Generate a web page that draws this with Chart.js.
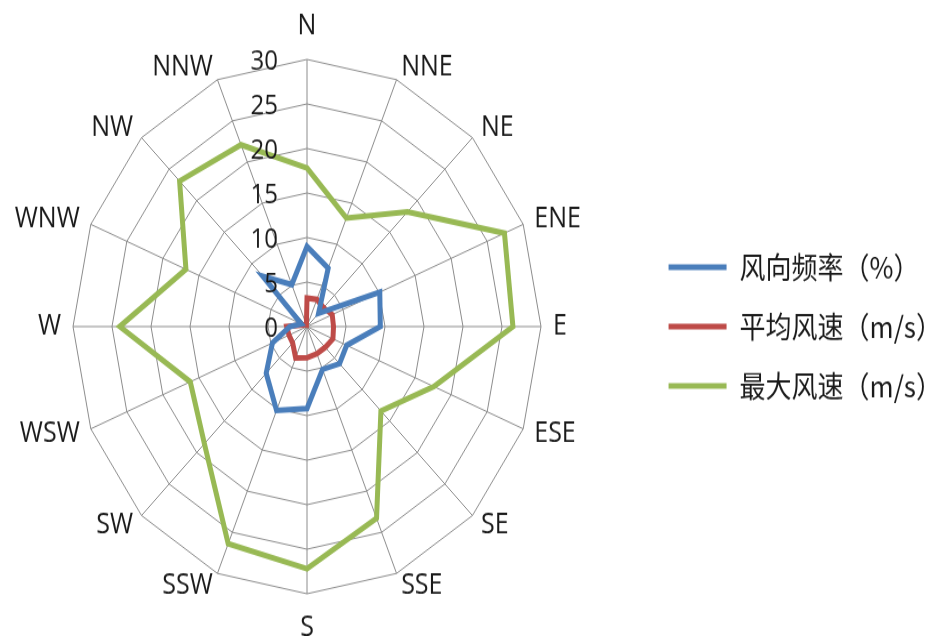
<!DOCTYPE html>
<html>
<head>
<meta charset="utf-8">
<script src="https://cdn.jsdelivr.net/npm/chart.js@4.4.1/dist/chart.umd.min.js"></script>
<style>
  html, body { margin: 0; padding: 0; background: #fff; }
  #wrap { width: 938px; height: 636px; overflow: hidden; position: relative; }
  /* the plot is drawn on a shorter canvas and stretched to the page height */
  #c { display: block; transform-origin: 0 0; transform: scaleY(1.1418); }
</style>
</head>
<body>
<div id="wrap"><canvas id="c" width="938" height="557"></canvas></div>
<script>
// wind directions, clockwise from north
const directions = ['N', 'NNE', 'NE', 'ENE', 'E', 'ESE', 'SE', 'SSE',
                    'S', 'SSW', 'SW', 'WSW', 'W', 'WNW', 'NW', 'NNW'];

// wind direction frequency (%)
const frequency = [9.0, 7.1, 2.1, 10.1, 9.4, 5.5, 5.9, 5.2,
                   9.2, 10.2, 7.4, 4.8, 2.2, 0.8, 8.0, 5.1];

// mean wind speed (m/s)
const meanSpeed = [3.2, 3.3, 3.0, 3.5, 3.4, 3.6, 3.3, 3.3,
                   3.5, 3.8, 2.6, 2.5, 2.6, 0.5, 0.3, 0.2];

// maximum wind speed (m/s)
const maxSpeed = [17.8, 13.2, 18.2, 27.4, 26.4, 17.6, 13.4, 23.3,
                  27.2, 26.4, 18.6, 16.2, 24.0, 16.8, 23.1, 22.1];

const seriesNames = ['风向频率（%）', '平均风速（m/s）', '最大风速（m/s）'];
const radialMin = 0, radialMax = 30, radialStep = 5;

const textColor = '#1a1a1a';
const gridColor = '#8c8c8c';
const labelFont = '25px "Open Sans"';
const tickFont = '24px "Open Sans"';

// radial tick values written to the left of the north spoke
const leftTicks = {
  id: 'leftTicks',
  afterDatasetsDraw(chart) {
    const s = chart.scales.r;
    const ctx = chart.ctx;
    ctx.save();
    ctx.font = tickFont;
    ctx.fillStyle = textColor;
    ctx.textAlign = 'right';
    ctx.textBaseline = 'middle';
    s.ticks.forEach(t => {
      const d = s.getDistanceFromCenterForValue(t.value);
      ctx.fillText(String(t.value), s.xCenter - 29, s.yCenter - d + 2);
    });
    ctx.restore();
  }
};

// direction names: beside the rim on the flanks, above/below it at N and S
const directionLabels = {
  id: 'directionLabels',
  afterDraw(chart) {
    const s = chart.scales.r;
    const ctx = chart.ctx;
    const gap = 12;
    ctx.save();
    ctx.font = labelFont;
    ctx.fillStyle = textColor;
    ctx.textBaseline = 'middle';
    directions.forEach((name, i) => {
      const p = s.getPointPosition(i, s.drawingArea + gap);
      const deg = Math.round(i * 360 / directions.length);
      let y = p.y;
      if (deg === 0) { ctx.textAlign = 'center'; y -= 17.5; }
      else if (deg === 180) { ctx.textAlign = 'center'; y += 17.5; }
      else ctx.textAlign = deg < 180 ? 'left' : 'right';
      ctx.fillText(name, p.x, y);
    });
    ctx.restore();
  }
};

// keep the legend block clear of the plot
const legendOffset = {
  id: 'legendOffset',
  afterLayout(chart) {
    const lg = chart.legend;
    if (lg) { lg.left += 28; lg.right += 28; }
  }
};

const lineStyle = { borderWidth: 5, tension: 0, fill: false, pointRadius: 0, pointHoverRadius: 0 };

new Chart(document.getElementById('c'), {
  type: 'radar',
  data: {
    labels: directions,
    datasets: [
      Object.assign({ label: seriesNames[0], data: frequency, borderColor: '#4a7ebb', backgroundColor: '#4a7ebb' }, lineStyle),
      Object.assign({ label: seriesNames[1], data: meanSpeed, borderColor: '#be4b48', backgroundColor: '#be4b48' }, lineStyle),
      Object.assign({ label: seriesNames[2], data: maxSpeed, borderColor: '#98b954', backgroundColor: '#98b954' }, lineStyle)
    ]
  },
  options: {
    responsive: false,
    devicePixelRatio: 1,
    animation: false,
    layout: { padding: { top: 52, bottom: 37, left: 0, right: 14 } },
    elements: { line: { borderJoinStyle: 'miter' } },
    scales: {
      r: {
        min: radialMin,
        max: radialMax,
        beginAtZero: true,
        ticks: { display: false, stepSize: radialStep },
        grid: { circular: false, color: gridColor, lineWidth: 1 },
        angleLines: { display: true, color: gridColor, lineWidth: 1 },
        pointLabels: { display: false }
      }
    },
    plugins: {
      legend: {
        position: 'right',
        align: 'center',
        labels: {
          font: { family: '"Noto Sans CJK SC"', size: 26 },
          color: textColor,
          usePointStyle: true,
          pointStyle: 'line',
          pointStyleWidth: 58,
          padding: 26
        }
      },
      tooltip: { enabled: false }
    }
  },
  plugins: [leftTicks, directionLabels, legendOffset]
});
</script>
</body>
</html>
